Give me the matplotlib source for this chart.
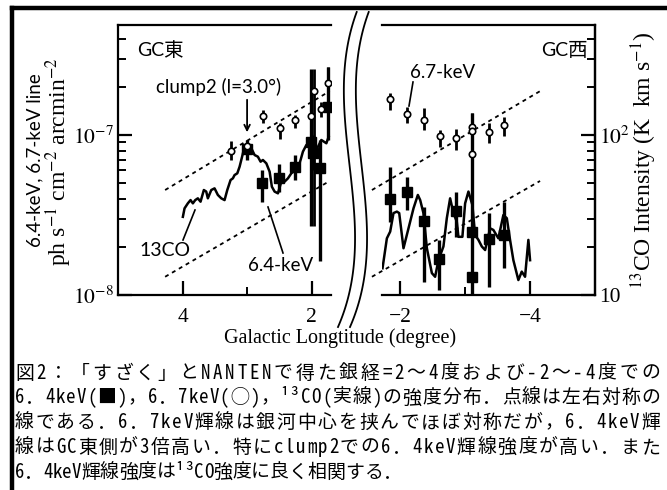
import numpy as np
import matplotlib.pyplot as plt
from matplotlib.lines import Line2D
from matplotlib.ticker import FixedLocator, FixedFormatter, LogLocator, NullFormatter

plt.rcParams['font.family'] = 'serif'
plt.rcParams['font.serif'] = ['Liberation Serif']
plt.rcParams['mathtext.fontset'] = 'stix'

# ---- GC east (l > 0) ----
# 6.7 keV line, open circles: value, lower end, upper end of the error bar
l67_e = [3.245, 3.0, 2.755, 2.496, 2.264, 2.01, 1.964, 1.856, 1.75]
f67_e = [8.0e-8, 8.5e-8, 1.31e-7, 1.10e-7, 1.24e-7, 1.31e-7, 1.88e-7, 1.45e-7, 2.1e-7]
lo67_e = [7.0e-8, 7.9e-8, 1.19e-7, 9.5e-8, 1.10e-7, 1.18e-7, 2.7e-8, 1.3e-7, 1.3e-7]
hi67_e = [9.2e-8, 9.3e-8, 1.43e-7, 1.19e-7, 1.33e-7, 1.43e-7, 2.6e-7, 1.6e-7, 2.65e-7]

# 6.4 keV line, filled squares
l64_e = [3.0, 2.77, 2.507, 2.253, 2.01, 1.98, 1.876, 1.747]
f64_e = [8.2e-8, 5.0e-8, 5.4e-8, 6.3e-8, 9.1e-8, 7.7e-8, 6.2e-8, 1.5e-7]
lo64_e = [7.0e-8, 3.8e-8, 4.4e-8, 5.2e-8, 2.7e-8, 6.0e-8, 1.62e-8, 9.3e-8]
hi64_e = [9.3e-8, 6.0e-8, 6.6e-8, 7.5e-8, 2.6e-7, 1.0e-7, 9.3e-8, 2.65e-7]

# 13CO intensity (K km/s)
lco_e = [3.995, 3.969, 3.918, 3.876, 3.84, 3.803, 3.763, 3.721, 3.67, 3.633,
         3.608, 3.555, 3.504, 3.453, 3.4, 3.349, 3.307, 3.256, 3.22, 3.194,
         3.152, 3.116, 3.09, 3.039, 2.988, 2.935, 2.884, 2.833, 2.791, 2.755,
         2.702, 2.651, 2.616, 2.574, 2.522, 2.47, 2.419, 2.367, 2.315, 2.253,
         2.186, 2.135, 2.082, 2.031, 1.98, 1.927, 1.85, 1.772, 1.736]
co_e = [30.8, 34.8, 37.4, 39.2, 37.4, 39.2, 40.2, 38.3, 45.3, 44.3,
        40.2, 45.3, 46.4, 42.2, 40.2, 39.2, 45.3, 52.3, 53.6, 56.2,
        57.6, 63.4, 69.8, 84.6, 88.8, 82.6, 75.0, 73.2, 68.1, 69.8,
        66.5, 59.0, 47.5, 44.3, 43.2, 51.1, 51.1, 53.6, 57.6, 60.4,
        66.5, 78.7, 86.6, 88.8, 82.6, 80.5, 93.1, 88.8, 97.5]

# ---- GC west (l < 0) ----
l67_w = [-1.846, -2.103, -2.369, -2.615, -2.857, -3.10, -3.10, -3.10, -3.36, -3.606]
f67_w = [1.67e-7, 1.35e-7, 1.24e-7, 9.86e-8, 9.62e-8, 1.13e-7, 1.06e-7, 7.6e-8, 1.04e-7, 1.15e-7]
lo67_w = [1.43e-7, 1.19e-7, 1.07e-7, 8.4e-8, 8.1e-8, 1.13e-7, 1.06e-7, 1.0e-8, 8.9e-8, 9.86e-8]
hi67_w = [1.83e-7, 1.50e-7, 1.48e-7, 1.07e-7, 1.09e-7, 1.13e-7, 1.06e-7, 1.37e-7, 1.19e-7, 1.30e-7]

l64_w = [-1.846, -2.11, -2.369, -2.6, -2.857, -3.10, -3.10, -3.36, -3.606]
f64_w = [3.97e-8, 4.42e-8, 2.92e-8, 1.68e-8, 3.36e-8, 2.49e-8, 1.30e-8, 2.24e-8, 2.37e-8]
lo64_w = [2.87e-8, 3.4e-8, 1.21e-8, 1.07e-8, 2.32e-8, 1.0e-8, 1.30e-8, 1.13e-8, 1.48e-8]
hi64_w = [6.34e-8, 5.5e-8, 3.56e-8, 2.21e-8, 4.42e-8, 1.37e-7, 1.30e-8, 3.25e-8, 3.83e-8]

lco_w = [-1.728, -1.795, -1.846, -1.897, -1.949, -1.985, -2.051, -2.128, -2.205, -2.272,
         -2.308, -2.358, -2.411, -2.488, -2.538, -2.589, -2.666, -2.718, -2.769, -2.82,
         -2.872, -2.897, -2.958, -3.0, -3.051, -3.112, -3.154, -3.205, -3.257, -3.308,
         -3.385, -3.435, -3.512, -3.589, -3.642, -3.692, -3.743, -3.82, -3.872, -3.923,
         -3.974, -4.0]
co_w = [14.7, 22.6, 24.9, 32.5, 33.2, 32.5, 19.6, 26.1, 34.8, 42.2,
        39.2, 32.5, 19.6, 13.7, 13.0, 16.5, 20.1, 30.2, 40.2, 32.5,
        28.7, 23.1, 23.1, 37.4, 44.3, 36.5, 23.7, 22.1, 20.1, 19.1,
        26.1, 25.5, 22.6, 31.6, 30.2, 22.1, 16.5, 12.4, 14.0, 13.0,
        22.1, 16.5]

# symmetric reference lines (end points)
sym_l_e = [4.27, 1.72]
sym_l_w = [-1.565, -4.154]
sym_hi = [4.53e-8, 1.88e-7]
sym_lo = [1.30e-8, 5.16e-8]

W, H = 667, 490
fig = plt.figure(figsize=(W / 100, H / 100), dpi=100)


def fx(x):
    return x / W


def fy(y):
    return 1 - y / H


def box(x0, x1, y0, y1):
    return [fx(x0), fy(y1), (x1 - x0) / W, (y1 - y0) / H]


axe = fig.add_axes(box(118, 331, 25, 295))
axw = fig.add_axes(box(382, 595, 25, 295))
cxe = axe.twinx()
cxw = axw.twinx()

YLIM = (1e-8, 4.87e-7)
COLIM = (10, 487)

for ax, xl in [(axe, (5.0, 1.7)), (axw, (-1.72, -5.0))]:
    ax.set_yscale('log')
    ax.set_xlim(*xl)
    ax.set_ylim(*YLIM)
    ax.patch.set_visible(False)
    ax.set_zorder(2)
    for s in ax.spines.values():
        s.set_linewidth(1.6)
for cx, ax in [(cxe, axe), (cxw, axw)]:
    cx.set_yscale('log')
    cx.set_ylim(*COLIM)
    cx.set_zorder(1)
    for s in cx.spines.values():
        s.set_visible(False)

axe.spines['right'].set_visible(False)
axw.spines['left'].set_visible(False)
cxw.spines['right'].set_visible(True)
cxw.spines['right'].set_linewidth(1.6)
cxe.tick_params(which='both', right=False, labelright=False)
axw.tick_params(which='both', left=False, labelleft=False)

# x ticks
axe.xaxis.set_major_locator(FixedLocator([4, 2]))
axe.xaxis.set_minor_locator(FixedLocator([3]))
axw.xaxis.set_major_locator(FixedLocator([-2, -4]))
axw.xaxis.set_minor_locator(FixedLocator([-3]))

# y ticks
axe.yaxis.set_major_locator(FixedLocator([1e-8, 1e-7]))
axe.yaxis.set_major_formatter(FixedFormatter([r'$10^{-8}$', r'$10^{-7}$']))
cxw.yaxis.set_major_locator(FixedLocator([10, 100]))
cxw.yaxis.set_major_formatter(FixedFormatter(['10', r'$10^{2}$']))
for ax in (axe, cxw):
    ax.yaxis.set_minor_locator(LogLocator(base=10, subs=np.arange(2, 10), numticks=20))
    ax.yaxis.set_minor_formatter(NullFormatter())

for ax in (axe, axw, cxw):
    ax.tick_params(which='major', direction='in', length=10, width=1.6, labelsize=15.5, pad=3)
    ax.tick_params(which='minor', direction='in', length=6, width=1.4)
    ax.tick_params(axis='x', which='major', pad=9)
    ax.tick_params(top=False, which='both')
axe.tick_params(axis='y', which='both', right=False)

# reference lines
for ax, ls in [(axe, sym_l_e), (axw, sym_l_w)]:
    ax.plot(ls, sym_hi, color='k', lw=1.3, ls=(0, (2.2, 2.2)), clip_on=False)
    ax.plot(ls, sym_lo, color='k', lw=1.3, ls=(0, (2.2, 2.2)), clip_on=False)

# 13CO
cxe.plot(lco_e, co_e, color='k', lw=1.8)
cxw.plot(lco_w, co_w, color='k', lw=1.8)


def errs(v, lo, hi):
    v, lo, hi = np.array(v), np.array(lo), np.array(hi)
    return [v - lo, hi - v]


for ax, l, v, lo, hi in [(axe, l64_e, f64_e, lo64_e, hi64_e), (axw, l64_w, f64_w, lo64_w, hi64_w)]:
    ax.errorbar(l, v, yerr=errs(v, lo, hi), fmt='s', ms=7.5, mfc='k', mec='k',
                ecolor='k', elinewidth=2.4, capsize=0, zorder=3)
for ax, l, v, lo, hi in [(axe, l67_e, f67_e, lo67_e, hi67_e), (axw, l67_w, f67_w, lo67_w, hi67_w)]:
    ax.errorbar(l, v, yerr=errs(v, lo, hi), fmt='o', ms=4.6, mfc='w', mec='k', mew=1.2,
                ecolor='k', elinewidth=2.0, capsize=0, zorder=4)

sans = ['Lato', 'Noto Sans CJK JP']

# annotations
fig.text(fx(137), fy(50), 'GC東', family=sans, fontsize=14, ha='left', va='center')
fig.text(fx(588), fy(50), 'GC西', family=sans, fontsize=14, ha='right', va='center')
fig.text(fx(219), fy(87), 'clump2 (l=3.0°)', family=sans, fontsize=13.5, ha='center', va='center')
fig.text(fx(443), fy(72), '6.7-keV', family=sans, fontsize=13.5, ha='center', va='center')
fig.text(fx(165), fy(250), '13CO', family=sans, fontsize=14, ha='center', va='center')
fig.text(fx(281), fy(265), '6.4-keV', family=sans, fontsize=13.5, ha='center', va='center')
axe.annotate('', xy=(3.0, 1.04e-7), xytext=(3.0, 1.66e-7),
             arrowprops=dict(arrowstyle='->', lw=1.3, color='k', shrinkA=0, shrinkB=0))

leaders = [((413, 82), (409, 106)), ((183, 240), (195, 210)), ((283, 253), (268, 207))]
for (x0, y0), (x1, y1) in leaders:
    fig.add_artist(Line2D([fx(x0), fx(x1)], [fy(y0), fy(y1)], color='k', lw=1.2))

# axis labels
fig.text(fx(35), fy(160), '6.4-keV, 6.7-keV line', family='Lato', fontsize=13.5,
         rotation=90, ha='center', va='center')
fig.text(fx(59), fy(162), r'ph s$^{-1}$ cm$^{-2}$ arcmin$^{-2}$', fontsize=17,
         rotation=90, ha='center', va='center')
fig.text(fx(644), fy(160), r'$^{13}$CO Intensity (K  km s$^{-1}$)', fontsize=17,
         rotation=90, ha='center', va='center')
fig.text(fx(340), fy(338), 'Galactic Longtitude (degree)', fontsize=14.5,
         ha='center', va='center')

# axis break marks
yb = np.array([12, 120, 233, 327])
xb = np.array([356.7, 345, 355, 338])
coef = np.polyfit(yb, xb, 3)
yy = np.linspace(12, 327, 120)
xx = np.polyval(coef, yy)
for dx in (0, 12):
    fig.add_artist(Line2D(fx(xx + dx), fy(yy), color='k', lw=1.3))

# frame
fig.add_artist(Line2D([fx(12), fx(667)], [fy(8.5), fy(8.5)], color='k', lw=3.2))
fig.add_artist(Line2D([fx(12), fx(12)], [fy(8.5), fy(490)], color='k', lw=3.2))

# caption, justified line by line on a monospaced CJK font
cap = ['図2：「すざく」とNANTENで得た銀経=2～4度および-2～-4度での',
       '6．4keV(■)，6．7keV(◯)，¹³CO(実線)の強度分布．点線は左右対称の',
       '線である．6．7keV輝線は銀河中心を挟んでほぼ対称だが，6．4keV輝',
       '線はGC東側が3倍高い．特にclump2での6．4keV輝線強度が高い．また',
       '6．4keV輝線強度は¹³CO強度に良く相関する．']
cap_font = ['Noto Sans Mono CJK JP', 'Noto Sans CJK JP']
cap_size = 13.6
em = cap_size * 100 / 72
x_left, x_right = 15, 660
for i, s in enumerate(cap):
    adv = [em * (0.5 if ord(ch) < 0x2000 else 1.0) for ch in s]
    natural = sum(adv)
    gap = (x_right - x_left - natural) / (len(s) - 1) if i < len(cap) - 1 else 0.0
    x = x_left
    for ch, a in zip(s, adv):
        fig.text(fx(x), fy(373 + 24.8 * i), ch, family=cap_font, fontsize=cap_size,
                 ha='left', va='center')
        x += a + gap

fig.savefig('out.png', dpi=100)
